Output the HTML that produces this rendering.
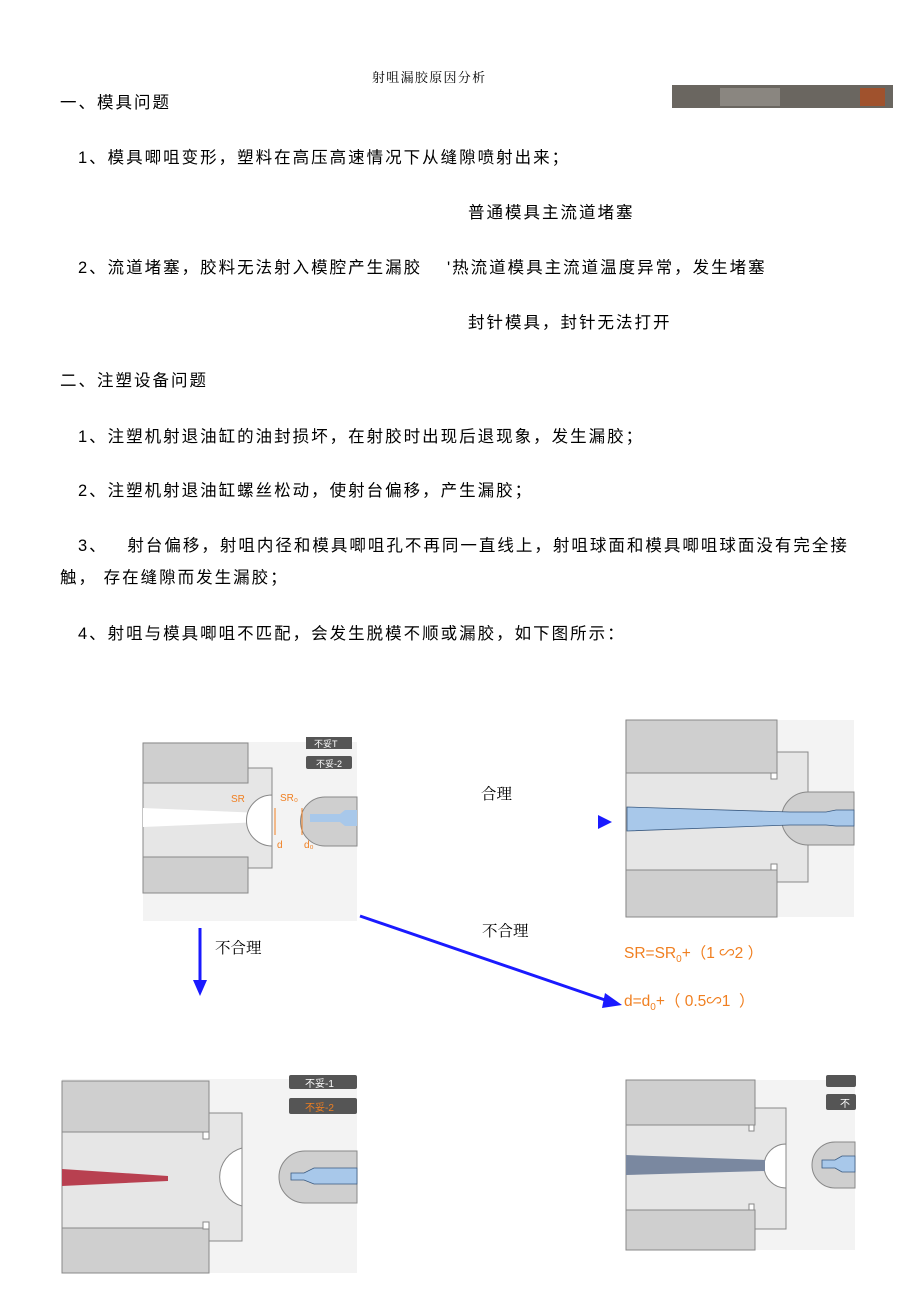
<!DOCTYPE html>
<html><head><meta charset="utf-8"><style>
body{margin:0;width:920px;height:1307px;background:#fff;position:relative;overflow:hidden;font-family:"Liberation Sans","Noto Sans CJK SC",sans-serif;color:#000}
.t{position:absolute;white-space:nowrap;font-size:16.5px;line-height:20px;letter-spacing:2px}
.s{letter-spacing:0;font-size:15.5px}
svg{position:absolute;left:0;top:0}
</style></head><body>
<svg width="920" height="1307" viewBox="0 0 920 1307">
<rect x="672" y="85" width="221" height="23" fill="#6a6660"/>
<rect x="720" y="88" width="60" height="18" fill="#8a8680"/>
<rect x="860" y="88" width="25" height="18" fill="#a0522d"/>
<rect x="143" y="742" width="214" height="179" fill="#f3f3f3"/>
<rect x="143" y="768" width="129" height="100" fill="#e6e6e6" stroke="#888" stroke-width="1"/>
<rect x="143" y="743" width="105" height="40" fill="#cfcfcf" stroke="#888"/>
<rect x="143" y="857" width="105" height="36" fill="#cfcfcf" stroke="#888"/>
<polygon points="143,808 260,813 260,822 143,827" fill="#fff"/>
<path d="M272,795 A25,25 0 0 0 272,846 Z" fill="#fff" stroke="#888"/>
<path d="M357,797 L325,797 A13,13 0 0 0 325,846 L357,846 Z" fill="#cfcfcf" stroke="#888"/>
<polygon points="310,814 340,814 345,810 357,810 357,826 345,826 340,822 310,822" fill="#a8c8ea"/>
<text x="231" y="802" font-size="10" fill="#f07f20" font-family="Liberation Sans">SR</text>
<text x="280" y="801" font-size="10" fill="#f07f20" font-family="Liberation Sans">SR₀</text>
<line x1="275" y1="808" x2="275" y2="835" stroke="#f07f20"/>
<line x1="302" y1="808" x2="302" y2="835" stroke="#f07f20"/>
<text x="277" y="848" font-size="10" fill="#f07f20">d</text>
<text x="304" y="848" font-size="10" fill="#f07f20">d₀</text>
<rect x="306" y="737" width="46" height="12" fill="#555"/><text x="314" y="747" font-size="9" fill="#fff">不妥T</text>
<rect x="306" y="756" width="46" height="13" rx="2" fill="#555"/><text x="316" y="767" font-size="9" fill="#fff">不妥-2</text>
<rect x="625" y="720" width="229" height="197" fill="#f3f3f3"/>
<rect x="626" y="752" width="182" height="130" fill="#e6e6e6" stroke="#888"/>
<rect x="626" y="720" width="151" height="53" fill="#cfcfcf" stroke="#888"/>
<rect x="626" y="870" width="151" height="47" fill="#cfcfcf" stroke="#888"/>
<rect x="771" y="773" width="6" height="6" fill="#fff" stroke="#888"/>
<rect x="771" y="864" width="6" height="6" fill="#fff" stroke="#888"/>
<path d="M854,792 L808,792 A18,18 0 0 0 808,845 L854,845 Z" fill="#cfcfcf" stroke="#888"/>
<polygon points="627,807 790,812 826,812 836,810 854,810 854,826 836,826 826,825 790,825 627,831" fill="#a8c8ea" stroke="#3a5a80" stroke-width="0.8"/>
<polygon points="598,815 612,822 598,829" fill="#1a1aff"/>
<line x1="200" y1="928" x2="200" y2="982" stroke="#1a1aff" stroke-width="3"/>
<polygon points="193,980 207,980 200,996" fill="#1a1aff"/>
<line x1="360" y1="916" x2="608" y2="1001" stroke="#1a1aff" stroke-width="3"/>
<polygon points="605,993 622,1005 602,1008" fill="#1a1aff"/>
<rect x="62" y="1079" width="295" height="194" fill="#f3f3f3"/>
<rect x="62" y="1113" width="180" height="128" fill="#e6e6e6" stroke="#888"/>
<rect x="62" y="1081" width="147" height="51" fill="#cfcfcf" stroke="#888"/>
<rect x="62" y="1228" width="147" height="45" fill="#cfcfcf" stroke="#888"/>
<rect x="203" y="1132" width="6" height="7" fill="#fff" stroke="#888"/>
<rect x="203" y="1222" width="6" height="7" fill="#fff" stroke="#888"/>
<path d="M242,1148 A30,30 0 0 0 242,1206 Z" fill="#fff" stroke="#888"/>
<polygon points="62,1169 168,1176 168,1181 62,1186" fill="#b84050"/>
<path d="M357,1151 L305,1151 A16,16 0 0 0 305,1203 L357,1203 Z" fill="#cfcfcf" stroke="#888"/>
<polygon points="291,1173 304,1173 314,1168 357,1168 357,1184 314,1184 304,1180 291,1180" fill="#a8c8ea" stroke="#3a5a80" stroke-width="0.8"/>
<rect x="289" y="1075" width="68" height="14" rx="2" fill="#555"/><text x="305" y="1087" font-size="10" fill="#fff">不妥-1</text>
<rect x="289" y="1098" width="68" height="16" rx="2" fill="#555"/><text x="305" y="1111" font-size="10" fill="#f07f20">不妥-2</text>
<rect x="626" y="1080" width="229" height="170" fill="#f3f3f3"/>
<rect x="626" y="1108" width="160" height="121" fill="#e6e6e6" stroke="#888"/>
<rect x="626" y="1080" width="129" height="45" fill="#cfcfcf" stroke="#888"/>
<rect x="626" y="1210" width="129" height="40" fill="#cfcfcf" stroke="#888"/>
<rect x="749" y="1125" width="5" height="6" fill="#fff" stroke="#888"/>
<rect x="749" y="1204" width="5" height="6" fill="#fff" stroke="#888"/>
<path d="M786,1144 A22,22 0 0 0 786,1188 Z" fill="#fff" stroke="#888"/>
<polygon points="626,1155 765,1160 765,1171 626,1175" fill="#7a88a0"/>
<path d="M855,1142 L835,1142 A14,14 0 0 0 835,1188 L855,1188 Z" fill="#cfcfcf" stroke="#888"/>
<polygon points="822,1160 835,1160 842,1156 855,1156 855,1172 842,1172 835,1168 822,1168" fill="#a8c8ea" stroke="#3a5a80" stroke-width="0.8"/>
<rect x="826" y="1075" width="30" height="12" rx="2" fill="#555"/>
<rect x="826" y="1094" width="30" height="16" rx="2" fill="#555"/><text x="840" y="1107" font-size="10" fill="#fff">不</text>
</svg>
<div class="t" style="left:372px;top:68px;font-size:13px;letter-spacing:1.3px;font-family:'Liberation Serif','Noto Serif CJK SC',serif">射咀漏胶原因分析</div>
<div class="t" style="left:60px;top:93px">一、模具问题</div>
<div class="t" style="left:78px;top:148px">1、模具唧咀变形，塑料在高压高速情况下从缝隙喷射出来；</div>
<div class="t" style="left:468px;top:203px">普通模具主流道堵塞</div>
<div class="t" style="left:78px;top:258px">2、流道堵塞，胶料无法射入模腔产生漏胶</div>
<div class="t" style="left:447px;top:258px">'热流道模具主流道温度异常，发生堵塞</div>
<div class="t" style="left:468px;top:313px">封针模具，封针无法打开</div>
<div class="t" style="left:60px;top:371px">二、注塑设备问题</div>
<div class="t" style="left:78px;top:427px">1、注塑机射退油缸的油封损坏，在射胶时出现后退现象，发生漏胶；</div>
<div class="t" style="left:78px;top:481px">2、注塑机射退油缸螺丝松动，使射台偏移，产生漏胶；</div>
<div class="t" style="left:78px;top:536px">3、&nbsp;&nbsp;&nbsp;射台偏移，射咀内径和模具唧咀孔不再同一直线上，射咀球面和模具唧咀球面没有完全接</div>
<div class="t" style="left:60px;top:568px">触， 存在缝隙而发生漏胶；</div>
<div class="t" style="left:78px;top:624px">4、射咀与模具唧咀不匹配，会发生脱模不顺或漏胶，如下图所示：</div>
<div class="t s" style="left:481px;top:785px;font-family:'Liberation Serif','Noto Serif CJK SC',serif">合理</div>
<div class="t s" style="left:482px;top:922px;font-family:'Liberation Serif','Noto Serif CJK SC',serif">不合理</div>
<div class="t s" style="left:215px;top:939px;font-family:'Liberation Serif','Noto Serif CJK SC',serif">不合理</div>
<div class="t s" style="left:624px;top:944px;color:#f07f20">SR=SR<sub style="font-size:10px">0</sub>+（1 ∽2 ）</div>
<div class="t s" style="left:624px;top:992px;color:#f07f20">d=d<sub style="font-size:10px">0</sub>+（ 0.5∽1 &nbsp;）</div>
</body></html>
